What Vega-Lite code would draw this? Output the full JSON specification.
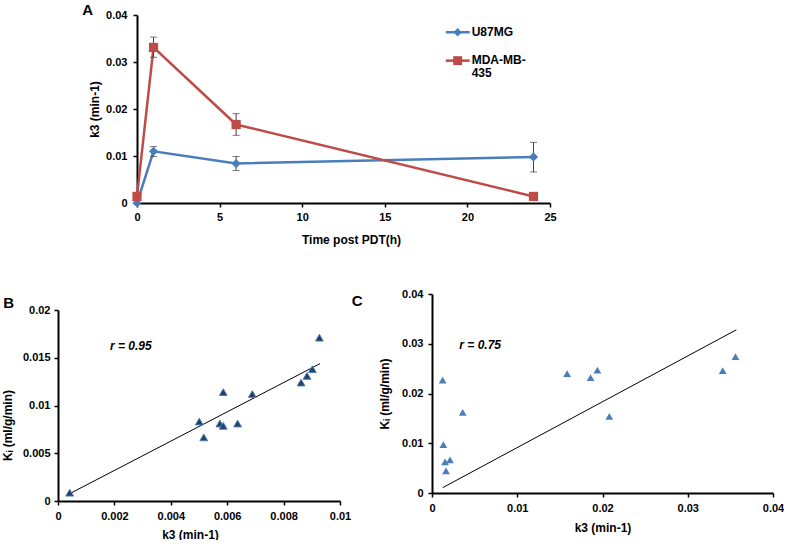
{
  "$schema": "https://vega.github.io/schema/vega-lite/v6.json",
  "background": "white",
  "padding": {"left": 1, "top": 3, "right": 0, "bottom": 0},
  "config": {
    "view": {"stroke": null},
    "font": "Liberation Sans",
    "axis": {
      "grid": false,
      "domainColor": "#000",
      "domainWidth": 2,
      "tickColor": "#000",
      "tickWidth": 1.5,
      "tickSize": 4,
      "labelFont": "Liberation Sans",
      "labelFontSize": 11,
      "labelFontWeight": "bold",
      "labelColor": "#000",
      "labelFlush": false,
      "titleFont": "Liberation Sans",
      "titleFontSize": 12,
      "titleFontWeight": "bold",
      "titleColor": "#000"
    }
  },
  "datasets": {
    "a": [
      {"series": "U87MG", "t": 0, "k3": 0},
      {"series": "U87MG", "t": 1, "k3": 0.011, "lo": 0.0099, "hi": 0.012},
      {"series": "U87MG", "t": 6, "k3": 0.0084, "lo": 0.0069, "hi": 0.0099},
      {"series": "U87MG", "t": 24, "k3": 0.0098, "lo": 0.0066, "hi": 0.0129},
      {"series": "MDA-MB-435", "t": 0, "k3": 0.0014},
      {"series": "MDA-MB-435", "t": 1, "k3": 0.0331, "lo": 0.031, "hi": 0.0353},
      {"series": "MDA-MB-435", "t": 6, "k3": 0.0167, "lo": 0.0144, "hi": 0.019},
      {"series": "MDA-MB-435", "t": 24, "k3": 0.0014}
    ],
    "b_pts": [
      {"k3": 0.000414, "ki": 0.000867},
      {"k3": 0.00501, "ki": 0.00832},
      {"k3": 0.00517, "ki": 0.00666},
      {"k3": 0.00574, "ki": 0.00811},
      {"k3": 0.00586, "ki": 0.00787},
      {"k3": 0.00586, "ki": 0.0114},
      {"k3": 0.00637, "ki": 0.00811},
      {"k3": 0.00689, "ki": 0.0112},
      {"k3": 0.00862, "ki": 0.0124},
      {"k3": 0.00883, "ki": 0.0131},
      {"k3": 0.00902, "ki": 0.0138},
      {"k3": 0.00927, "ki": 0.0171}
    ],
    "b_fit": [
      {"k3": 0.00041, "ki": 0.00076},
      {"k3": 0.00929, "ki": 0.01438}
    ],
    "c_pts": [
      {"k3": 0.00125, "ki": 0.0227},
      {"k3": 0.00133, "ki": 0.00973},
      {"k3": 0.00153, "ki": 0.00624},
      {"k3": 0.00164, "ki": 0.00443},
      {"k3": 0.00211, "ki": 0.00664},
      {"k3": 0.0036, "ki": 0.0162},
      {"k3": 0.01585, "ki": 0.024},
      {"k3": 0.0186, "ki": 0.0232},
      {"k3": 0.0194, "ki": 0.0247},
      {"k3": 0.0208, "ki": 0.0154},
      {"k3": 0.0341, "ki": 0.0246},
      {"k3": 0.0356, "ki": 0.0274}
    ],
    "c_fit": [
      {"k3": 0.00125, "ki": 0.00107},
      {"k3": 0.0357, "ki": 0.0328}
    ]
  },
  "spacing": 43,
  "vconcat": [
    {
      "bounds": "flush",
      "spacing": 0,
      "hconcat": [
        {
          "width": 79,
          "height": 188,
          "data": {"values": []},
          "mark": {"type": "point", "opacity": 0},
          "encoding": {}
        },
        {
          "width": 413,
          "height": 188,
          "layer": [
            {
              "data": {"name": "a"},
              "mark": {"type": "line", "strokeWidth": 2.5},
              "encoding": {
                "x": {"field": "t", "type": "quantitative", "title": "Time post PDT(h)", "scale": {"domain": [0, 25], "nice": false},
                      "axis": {"values": [0, 5, 10, 15, 20, 25], "format": "~g", "labelPadding": 4, "titlePadding": 12, "titleX": 214}},
                "y": {"field": "k3", "type": "quantitative", "title": "k3 (min-1)", "scale": {"domain": [0, 0.04], "nice": false},
                      "axis": {"values": [0, 0.01, 0.02, 0.03, 0.04], "format": "~g", "labelPadding": 6, "titlePadding": 4}},
                "color": {"field": "series", "type": "nominal", "scale": {"domain": ["U87MG", "MDA-MB-435"], "range": ["#4a7ebb", "#be4b48"]}, "legend": null}
              }
            },
            {
              "data": {"name": "a"},
              "transform": [{"filter": "isValid(datum.lo)"}],
              "mark": {"type": "errorbar", "ticks": true, "color": "#404040", "thickness": 1, "size": 7},
              "encoding": {
                "x": {"field": "t", "type": "quantitative", "title": "Time post PDT(h)"},
                "y": {"field": "lo", "type": "quantitative", "title": "k3 (min-1)"},
                "y2": {"field": "hi"}
              }
            },
            {
              "data": {"name": "a"},
              "mark": {"type": "point", "filled": true, "opacity": 1, "size": 85},
              "encoding": {
                "x": {"field": "t", "type": "quantitative", "title": "Time post PDT(h)"},
                "y": {"field": "k3", "type": "quantitative", "title": "k3 (min-1)"},
                "color": {"field": "series", "type": "nominal", "scale": {"domain": ["U87MG", "MDA-MB-435"], "range": ["#4a7ebb", "#be4b48"]}, "legend": null},
                "shape": {"field": "series", "type": "nominal", "scale": {"domain": ["U87MG", "MDA-MB-435"], "range": ["diamond", "square"]}, "legend": null}
              }
            },
            {
              "data": {"values": [{}]},
              "mark": {"type": "rule", "color": "#4a7ebb", "strokeWidth": 2.5},
              "encoding": {"x": {"datum": 18.69, "type": "quantitative", "title": "Time post PDT(h)"}, "x2": {"datum": 20.14}, "y": {"datum": 0.03633, "type": "quantitative", "title": "k3 (min-1)"}}
            },
            {
              "data": {"values": [{}]},
              "mark": {"type": "point", "shape": "diamond", "filled": true, "opacity": 1, "size": 70, "color": "#4a7ebb"},
              "encoding": {"x": {"datum": 19.41, "type": "quantitative", "title": "Time post PDT(h)"}, "y": {"datum": 0.03633, "type": "quantitative", "title": "k3 (min-1)"}}
            },
            {
              "data": {"values": [{}]},
              "mark": {"type": "rule", "color": "#be4b48", "strokeWidth": 2.5},
              "encoding": {"x": {"datum": 18.69, "type": "quantitative", "title": "Time post PDT(h)"}, "x2": {"datum": 20.14}, "y": {"datum": 0.03029, "type": "quantitative", "title": "k3 (min-1)"}}
            },
            {
              "data": {"values": [{}]},
              "mark": {"type": "point", "shape": "square", "filled": true, "opacity": 1, "size": 80, "color": "#be4b48"},
              "encoding": {"x": {"datum": 19.41, "type": "quantitative", "title": "Time post PDT(h)"}, "y": {"datum": 0.03029, "type": "quantitative", "title": "k3 (min-1)"}}
            },
            {
              "data": {"values": [{}]},
              "mark": {"type": "text", "text": "U87MG", "align": "left", "baseline": "middle", "fontSize": 12, "fontWeight": "bold", "color": "#000"},
              "encoding": {"x": {"datum": 20.26, "type": "quantitative", "title": "Time post PDT(h)"}, "y": {"datum": 0.03633, "type": "quantitative", "title": "k3 (min-1)"}}
            },
            {
              "data": {"values": [{}]},
              "mark": {"type": "text", "text": "MDA-MB-", "align": "left", "baseline": "middle", "fontSize": 12, "fontWeight": "bold", "color": "#000"},
              "encoding": {"x": {"datum": 20.26, "type": "quantitative", "title": "Time post PDT(h)"}, "y": {"datum": 0.0304, "type": "quantitative", "title": "k3 (min-1)"}}
            },
            {
              "data": {"values": [{}]},
              "mark": {"type": "text", "text": "435", "align": "left", "baseline": "middle", "fontSize": 12, "fontWeight": "bold", "color": "#000"},
              "encoding": {"x": {"datum": 20.26, "type": "quantitative", "title": "Time post PDT(h)"}, "y": {"datum": 0.02765, "type": "quantitative", "title": "k3 (min-1)"}}
            },
            {
              "data": {"values": [{}]},
              "mark": {"type": "text", "text": "A", "align": "center", "baseline": "middle", "fontSize": 15, "fontWeight": "bold", "color": "#000"},
              "encoding": {"x": {"datum": -2.98, "type": "quantitative", "title": "Time post PDT(h)"}, "y": {"datum": 0.04106, "type": "quantitative", "title": "k3 (min-1)"}}
            }
          ]
        }
      ]
    },
    {
      "bounds": "flush",
      "spacing": 92,
      "hconcat": [
        {
          "width": 282,
          "height": 207,
          "layer": [
            {
              "data": {"name": "b_fit"},
              "mark": {"type": "line", "color": "#000", "strokeWidth": 1},
              "encoding": {
                "x": {"field": "k3", "type": "quantitative", "title": "k3 (min-1)", "scale": {"domain": [0, 0.01], "nice": false},
                      "axis": {"values": [0, 0.002, 0.004, 0.006, 0.008, 0.01], "format": "~g", "labelPadding": 5, "titlePadding": 8, "titleX": 132}},
                "y": {"field": "ki", "type": "quantitative", "title": "Kᵢ (ml/g/min)", "scale": {"domain": [0, 0.02], "nice": false, "range": [207, 16]},
                      "axis": {"values": [0, 0.005, 0.01, 0.015, 0.02], "format": "~g", "labelPadding": 4, "titlePadding": 8, "titleY": 131}}
              }
            },
            {
              "data": {"name": "b_pts"},
              "mark": {"type": "point", "shape": "triangle-up", "filled": true, "opacity": 1, "size": 60, "fill": "#243f60", "stroke": "#4a7ebb", "strokeWidth": 1},
              "encoding": {
                "x": {"field": "k3", "type": "quantitative", "title": "k3 (min-1)"},
                "y": {"field": "ki", "type": "quantitative", "title": "Kᵢ (ml/g/min)"}
              }
            },
            {
              "data": {"values": [{}]},
              "mark": {"type": "text", "text": "r = 0.95", "align": "left", "baseline": "middle", "fontSize": 12, "fontWeight": "bold", "fontStyle": "italic", "color": "#000"},
              "encoding": {"x": {"datum": 0.00184, "type": "quantitative", "title": "k3 (min-1)"}, "y": {"datum": 0.0162, "type": "quantitative", "title": "Kᵢ (ml/g/min)"}}
            },
            {
              "data": {"values": [{}]},
              "mark": {"type": "text", "text": "B", "align": "center", "baseline": "middle", "fontSize": 15, "fontWeight": "bold", "color": "#000"},
              "encoding": {"x": {"datum": -0.00175, "type": "quantitative", "title": "k3 (min-1)"}, "y": {"datum": 0.02073, "type": "quantitative", "title": "Kᵢ (ml/g/min)"}}
            }
          ]
        },
        {
          "width": 341,
          "height": 199,
          "layer": [
            {
              "data": {"name": "c_fit"},
              "mark": {"type": "line", "color": "#000", "strokeWidth": 1},
              "encoding": {
                "x": {"field": "k3", "type": "quantitative", "title": "k3 (min-1)", "scale": {"domain": [0, 0.04], "nice": false},
                      "axis": {"values": [0, 0.01, 0.02, 0.03, 0.04], "format": "~g", "labelPadding": 5, "titlePadding": 9}},
                "y": {"field": "ki", "type": "quantitative", "title": "Kᵢ (ml/g/min)", "scale": {"domain": [0, 0.04], "nice": false},
                      "axis": {"values": [0, 0.01, 0.02, 0.03, 0.04], "format": "~g", "labelPadding": 5, "titlePadding": 10}}
              }
            },
            {
              "data": {"name": "c_pts"},
              "mark": {"type": "point", "shape": "triangle-up", "filled": true, "opacity": 1, "size": 60, "color": "#4a7ebb"},
              "encoding": {
                "x": {"field": "k3", "type": "quantitative", "title": "k3 (min-1)"},
                "y": {"field": "ki", "type": "quantitative", "title": "Kᵢ (ml/g/min)"}
              }
            },
            {
              "data": {"values": [{}]},
              "mark": {"type": "text", "text": "r = 0.75", "align": "left", "baseline": "middle", "fontSize": 12, "fontWeight": "bold", "fontStyle": "italic", "color": "#000"},
              "encoding": {"x": {"datum": 0.0032, "type": "quantitative", "title": "k3 (min-1)"}, "y": {"datum": 0.02972, "type": "quantitative", "title": "Kᵢ (ml/g/min)"}}
            },
            {
              "data": {"values": [{}]},
              "mark": {"type": "text", "text": "C", "align": "center", "baseline": "middle", "fontSize": 15, "fontWeight": "bold", "color": "#000"},
              "encoding": {"x": {"datum": -0.00877, "type": "quantitative", "title": "k3 (min-1)"}, "y": {"datum": 0.03851, "type": "quantitative", "title": "Kᵢ (ml/g/min)"}}
            }
          ]
        }
      ]
    }
  ]
}
